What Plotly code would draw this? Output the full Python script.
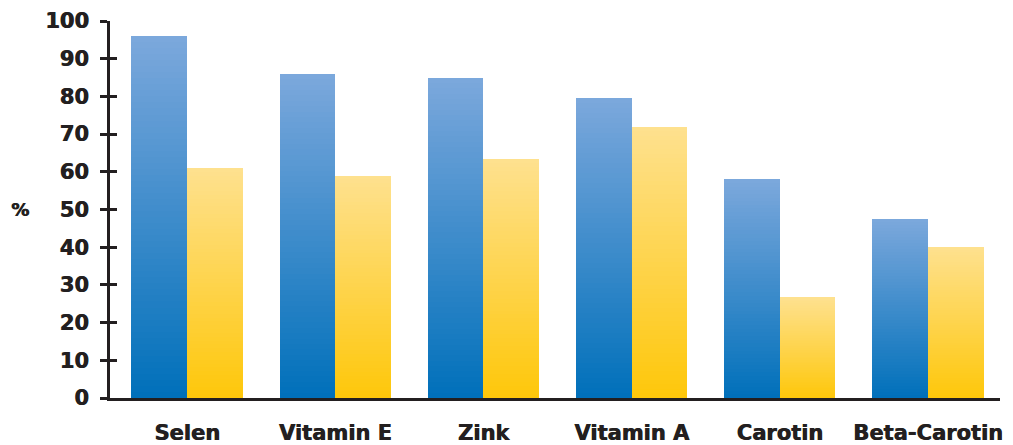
import plotly.graph_objects as go

categories = ["Selen", "Vitamin E", "Zink", "Vitamin A", "Carotin", "Beta-Carotin"]
blue_values = [96, 86, 85, 79.5, 58, 47.5]
yellow_values = [61, 59, 63.3, 72, 26.7, 40]
y_ticks = [0, 10, 20, 30, 40, 50, 60, 70, 80, 90, 100]

N = 60
TEXT = "#231f20"
SHADOW = "0.7px 0 0 #231f20"


def lerp(c1, c2, t):
    return "rgb(%d,%d,%d)" % tuple(round(a + (b - a) * t) for a, b in zip(c1, c2))


def sliced(values, offset, bottom, top):
    xs, bases, hs, cols = [], [], [], []
    for i, v in enumerate(values):
        for k in range(N):
            xs.append(i + offset)
            bases.append(v * k / N)
            hs.append(v / N)
            cols.append(lerp(bottom, top, (k + 0.5) / N))
    return xs, bases, hs, cols


fig = go.Figure()
W = 0.375
for vals, off, bot, top in [
    (blue_values, -W / 2, (0, 112, 186), (124, 168, 220)),
    (yellow_values, W / 2, (254, 199, 10), (254, 225, 143)),
]:
    xs, bases, hs, cols = sliced(vals, off, bot, top)
    fig.add_trace(go.Bar(x=xs, y=hs, base=bases, width=W,
                         marker=dict(color=cols, line=dict(width=0)),
                         hoverinfo="skip", showlegend=False))

lab_font = dict(size=21, family="DejaVu Sans", weight="bold", color=TEXT, shadow=SHADOW)

fig.update_layout(
    width=1013, height=445,
    margin=dict(l=110, r=13, t=21, b=47, autoexpand=False),
    plot_bgcolor="white", paper_bgcolor="white",
    barmode="overlay", bargap=0,
    font=dict(family="DejaVu Sans", color=TEXT),
    xaxis=dict(range=[-0.52, 5.486], tickvals=list(range(len(categories))),
               ticktext=categories, showgrid=False, zeroline=False,
               showline=True, linewidth=3, linecolor=TEXT, ticks="",
               tickfont=lab_font, ticklabelstandoff=14, automargin=False),
    yaxis=dict(range=[0, 100], tickvals=y_ticks, showgrid=False, zeroline=False,
               showline=True, linewidth=3, linecolor=TEXT, ticks="outside",
               ticklen=7, tickwidth=3, tickcolor=TEXT,
               tickfont=lab_font, ticklabelstandoff=7, automargin=False),
    yaxis2=dict(range=[0, 100], tickvals=y_ticks, overlaying="y", side="left",
                showgrid=False, zeroline=False, showline=False,
                ticks="inside", ticklen=7, tickwidth=3, tickcolor=TEXT,
                showticklabels=False, automargin=False),
)
fig.add_trace(go.Scatter(x=[None], y=[None], yaxis="y2", showlegend=False))
fig.add_annotation(text="%", xref="paper", yref="y", x=0, y=50, xshift=-101,
                   xanchor="left", showarrow=False,
                   font=dict(size=18, family="DejaVu Sans", weight="bold",
                             color=TEXT, shadow=SHADOW))

fig.write_html("out.html")
